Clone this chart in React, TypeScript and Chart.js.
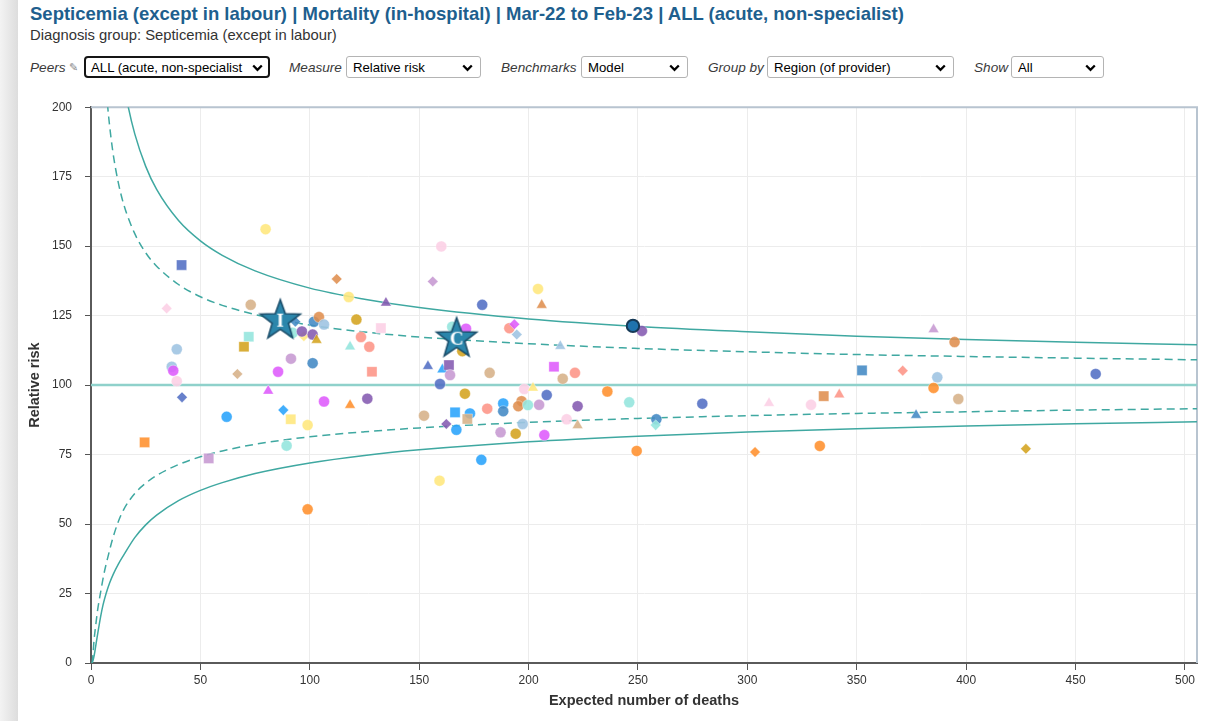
import React, { useEffect, useRef } from "react";
import { Chart, registerables } from "chart.js";

Chart.register(...registerables);

// ---------------- data ----------------
// expected number of deaths per provider
const expectedDeaths = [
  79.8, 41.4, 34.6, 73.0, 93.4, 92.2, 97.3, 96.4, 101.3, 101.9,
  104.2, 106.5, 103.1, 112.3, 117.8, 134.8, 121.3, 132.5, 123.4, 127.2,
  118.4, 128.4, 72.1, 69.9, 39.2, 36.9, 37.6, 39.2, 41.6, 66.9,
  85.5, 91.4, 101.3, 81.0, 87.9, 91.3, 106.5, 118.4, 126.3, 62.0,
  160.1, 156.2, 178.8, 204.3, 206.0, 165.1, 171.4, 169.7, 191.2, 193.5,
  194.6, 214.5, 154.0, 160.6, 163.6, 164.1, 159.5, 182.2, 211.6, 215.6,
  221.2, 251.8, 236.0, 246.0, 279.4, 309.9, 329.1, 170.9, 208.3, 198.0,
  202.0, 222.4, 204.8, 188.4, 188.4, 196.8, 195.3, 199.7, 181.1, 166.4,
  173.2, 152.2, 172.0, 162.4, 167.0, 187.2, 194.1, 197.3, 207.2, 178.4,
  217.4, 222.4, 258.4, 258.1, 249.4, 303.5, 385.1, 394.7, 352.4, 371.0,
  386.8, 385.1, 396.4, 459.2, 334.9, 342.0, 377.1, 333.1, 427.3, 24.5,
  53.8, 99.0, 89.4, 99.0, 159.3,
];
// relative risk per provider
const relativeRisk = [
  156.1, 143.2, 127.6, 128.9, 122.8, 118.8, 117.6, 119.3, 118.2, 122.8,
  124.5, 121.8, 116.2, 138.2, 131.7, 129.6, 123.6, 120.5, 117.3, 113.8,
  113.8, 104.8, 117.4, 113.8, 112.9, 106.6, 105.2, 101.4, 95.6, 104.0,
  104.8, 109.5, 107.9, 97.9, 91.0, 87.7, 94.1, 92.8, 95.1, 88.6,
  149.9, 137.3, 128.9, 134.6, 128.8, 121.0, 120.3, 112.2, 120.5, 121.9,
  118.2, 114.0, 106.8, 105.6, 107.2, 103.6, 100.4, 104.4, 106.6, 102.3,
  104.4, 119.5, 97.7, 93.8, 93.3, 93.5, 92.9, 96.9, 96.4, 98.6,
  99.0, 92.4, 92.9, 93.4, 90.6, 94.2, 92.4, 92.8, 91.5, 90.2,
  89.8, 89.0, 87.8, 86.0, 83.9, 83.0, 82.5, 86.0, 82.0, 73.1,
  87.7, 85.5, 87.7, 85.6, 76.3, 75.9, 120.0, 115.5, 105.3, 105.2,
  102.8, 99.0, 95.0, 104.0, 96.0, 96.6, 89.2, 78.1, 77.1, 79.4,
  73.6, 85.6, 78.2, 55.3, 65.6,
];
// region group of each provider
const providerRegion = [
  "N", "A", "H", "L", "B", "O", "N", "E", "E", "B",
  "K", "C", "M", "K", "N", "E", "M", "H", "I", "I",
  "O", "I", "O", "M", "C", "C", "G", "H", "A", "L",
  "G", "F", "B", "G", "D", "N", "G", "J", "E", "D",
  "H", "F", "A", "N", "K", "O", "G", "M", "I", "G",
  "C", "C", "A", "D", "E", "F", "A", "L", "G", "L",
  "I", "E", "J", "O", "A", "H", "H", "M", "A", "H",
  "N", "E", "F", "D", "B", "K", "K", "O", "I", "D",
  "D", "L", "L", "E", "D", "F", "M", "C", "G", "D",
  "H", "L", "B", "O", "J", "J", "F", "K", "B", "I",
  "C", "J", "L", "A", "K", "I", "B", "J", "M", "J",
  "F", "N", "O", "J", "N",
];
// provider type (drawn with a different marker)
const providerType = [
  "T1", "T2", "T3", "T1", "T3", "T1", "T3", "T1", "T1", "T1",
  "T1", "T1", "T4", "T3", "T1", "T4", "T1", "T2", "T1", "T1",
  "T4", "T2", "T2", "T2", "T1", "T1", "T1", "T1", "T3", "T3",
  "T1", "T1", "T1", "T4", "T3", "T2", "T1", "T4", "T1", "T1",
  "T1", "T3", "T1", "T1", "T4", "T1", "T1", "T1", "T1", "T3",
  "T3", "T4", "T4", "T4", "T2", "T1", "T1", "T1", "T2", "T1",
  "T1", "T1", "T1", "T1", "T1", "T4", "T1", "T1", "T1", "T1",
  "T4", "T1", "T1", "T1", "T1", "T1", "T1", "T1", "T1", "T2",
  "T1", "T1", "T2", "T3", "T1", "T1", "T1", "T1", "T1", "T1",
  "T1", "T4", "T1", "T3", "T1", "T3", "T4", "T1", "T2", "T3",
  "T1", "T1", "T1", "T1", "T2", "T4", "T4", "T1", "T3", "T2",
  "T2", "T1", "T1", "T1", "T1",
];

// selected provider
const selectedExpected = [247.7];
const selectedRisk = [121.3];

// peer markers
const peerLetters = ["I", "C"];
const peerExpected = [86.5, 167.1];
const peerRisk = [123.9, 117.4];

// benchmark (100) line
const benchmarkX = [0, 505.5];
const benchmarkY = [100, 100];

// 99.8% control limits
const lower998X = [0.5, 1.2, 1.8, 2.6, 3.5, 4.4, 5.5, 6.9, 8.5, 10.2, 12.5, 15, 20, 25, 30, 40, 50, 60, 75, 100, 125, 150, 200, 250, 300, 350, 400, 450, 506];
const lower998Y = [0, 1.8, 4.3, 8.3, 12.6, 16.7, 20.9, 25.0, 28.8, 32.0, 35.6, 38.9, 45.1, 49.7, 53.2, 58.4, 62.1, 64.9, 68.2, 72.0, 74.7, 76.7, 79.6, 81.6, 83.1, 84.3, 85.3, 86.1, 86.8];
const upper998X = [15, 17, 20, 25, 30, 40, 50, 60, 75, 100, 125, 150, 200, 250, 300, 350, 400, 450, 506];
const upper998Y = [208.6, 200.2, 190.4, 178.7, 170.4, 159.2, 151.9, 146.7, 141.1, 134.9, 130.9, 127.9, 123.8, 121.1, 119.2, 117.6, 116.4, 115.4, 114.5];

// 95% control limits
const lower95X = [0.55, 0.9, 1.4, 2, 3, 4.4, 5.9, 8, 10, 12.5, 15, 20, 25, 30, 40, 50, 60, 75, 100, 125, 150, 200, 250, 300, 350, 400, 450, 506];
const lower95Y = [0, 3.0, 8.3, 12.5, 18.9, 25.5, 32.0, 39.0, 45.0, 50.9, 55.3, 61.0, 64.7, 67.5, 71.4, 74.2, 76.3, 78.7, 81.4, 83.2, 84.6, 86.6, 88.0, 89.0, 89.8, 90.4, 91.0, 91.5];
const upper95X = [7, 8, 10, 12.5, 15, 20, 25, 30, 40, 50, 60, 75, 100, 125, 150, 200, 250, 300, 350, 400, 450, 506];
const upper95Y = [206.0, 197.1, 183.9, 172.8, 164.9, 154.5, 147.6, 142.8, 136.2, 131.8, 128.7, 125.4, 121.6, 119.1, 117.3, 114.9, 113.2, 112.0, 111.0, 110.3, 109.7, 109.1];

// axis settings
const xMax = 505.5;
const yMax = 200;

// ---------------- styling ----------------
const regionColors: Record<string, string> = {
  A: "rgba(82,110,196,0.88)",
  B: "rgba(66,137,196,0.88)",
  C: "rgba(160,196,226,0.9)",
  D: "rgba(40,163,252,0.88)",
  E: "rgba(132,90,176,0.88)",
  F: "rgba(198,152,210,0.88)",
  G: "rgba(222,90,252,0.88)",
  H: "rgba(252,208,229,0.9)",
  I: "rgba(253,148,134,0.88)",
  J: "rgba(255,144,44,0.88)",
  K: "rgba(223,142,78,0.88)",
  L: "rgba(214,176,136,0.88)",
  M: "rgba(212,163,30,0.88)",
  N: "rgba(255,232,128,0.9)",
  O: "rgba(150,230,222,0.9)",
};
const typeShape: Record<string, string> = { T1: "circle", T2: "rect", T3: "rectRot", T4: "triangle" };
const shapeRadius: Record<string, number> = { circle: 5.5, rect: 7.2, rectRot: 5.3, triangle: 6.2 };

const LIMIT_COLOR = "#3fa8a1";
const FONT = '"Liberation Sans", Arial, Helvetica, sans-serif';

function makeStar(letter: string): HTMLCanvasElement {
  const c = document.createElement("canvas");
  c.width = 48;
  c.height = 48;
  const g = c.getContext("2d")!;
  const cx = 24, cy = 26, R = 21, r = 8.6;
  g.beginPath();
  for (let i = 0; i < 10; i++) {
    const ang = -Math.PI / 2 + (i * Math.PI) / 5;
    const rad = i % 2 === 0 ? R : r;
    const px = cx + rad * Math.cos(ang);
    const py = cy + rad * Math.sin(ang);
    if (i === 0) g.moveTo(px, py);
    else g.lineTo(px, py);
  }
  g.closePath();
  g.fillStyle = "#2b86ab";
  g.fill();
  g.lineWidth = 1.6;
  g.strokeStyle = "#1a4d6a";
  g.stroke();
  g.fillStyle = "#ffffff";
  g.font = 'bold 19px "Liberation Serif", "DejaVu Serif", serif';
  g.textAlign = "center";
  g.textBaseline = "middle";
  g.fillText(letter, cx, cy + 1);
  return c;
}

function toPoints(xs: number[], ys: number[]) {
  return xs.map((x, i) => ({ x, y: ys[i] }));
}

const Select = ({ left, width, text, focused }: { left: number; width: number; text: string; focused?: boolean }) => (
  <div
    style={{
      position: "absolute",
      left,
      top: 56,
      width,
      height: 22,
      boxSizing: "border-box",
      border: focused ? "2px solid #151515" : "1px solid #b4b4b4",
      borderRadius: focused ? 4 : 3,
      background: "#fff",
      fontSize: 13.2,
      color: "#000",
      display: "flex",
      alignItems: "center",
      paddingLeft: focused ? 5 : 6,
    }}
  >
    <span style={{ overflow: "hidden", whiteSpace: "nowrap", width: width - 26 }}>{text}</span>
    <svg style={{ position: "absolute", right: focused ? 5 : 7, top: focused ? 6 : 7 }} width="11" height="8" viewBox="0 0 11 8">
      <polyline points="1.2,1.5 5.5,5.8 9.8,1.5" stroke="#000" strokeWidth="2.3" fill="none" />
    </svg>
  </div>
);

const Label = ({ left, text }: { left: number; text: string }) => (
  <div
    style={{
      position: "absolute",
      left,
      top: 56,
      height: 22,
      display: "flex",
      alignItems: "center",
      fontStyle: "italic",
      fontSize: 13.6,
      color: "#3a3a3a",
      whiteSpace: "nowrap",
    }}
  >
    {text}
  </div>
);

export default function App() {
  const ref = useRef<HTMLCanvasElement>(null);

  useEffect(() => {
    if (!ref.current) return;
    Chart.defaults.font.family = FONT;

    const shapes = providerType.map((t) => typeShape[t]);
    const colors = providerRegion.map((r) => regionColors[r]);
    const radii = shapes.map((s) => shapeRadius[s]);
    const stars = peerLetters.map((l) => makeStar(l));

    const framePlugin = {
      id: "frame",
      beforeDatasetsDraw(chart: any) {
        const { ctx, chartArea: a } = chart;
        ctx.save();
        ctx.strokeStyle = "#b8c4d0";
        ctx.lineWidth = 2;
        ctx.beginPath();
        ctx.moveTo(a.left, a.top);
        ctx.lineTo(a.right, a.top);
        ctx.lineTo(a.right, a.bottom);
        ctx.stroke();
        ctx.restore();
      },
    };

    const lineBase = {
      showLine: true,
      pointRadius: 0,
      pointHoverRadius: 0,
      fill: false,
      cubicInterpolationMode: "monotone" as const,
      borderColor: LIMIT_COLOR,
      borderWidth: 1.5,
      order: 10,
    };

    const chart = new Chart(ref.current, {
      type: "scatter",
      data: {
        datasets: [
          {
            ...lineBase,
            label: "Benchmark",
            data: toPoints(benchmarkX, benchmarkY),
            borderColor: "#8fd1cb",
            borderWidth: 2.5,
            cubicInterpolationMode: "default" as const,
          },
          { ...lineBase, label: "Lower 99.8%", data: toPoints(lower998X, lower998Y) },
          { ...lineBase, label: "Upper 99.8%", data: toPoints(upper998X, upper998Y) },
          { ...lineBase, label: "Lower 95%", data: toPoints(lower95X, lower95Y), borderDash: [8, 5] },
          { ...lineBase, label: "Upper 95%", data: toPoints(upper95X, upper95Y), borderDash: [8, 5] },
          {
            label: "Providers",
            data: toPoints(expectedDeaths, relativeRisk),
            pointStyle: shapes as any,
            pointRadius: radii,
            backgroundColor: colors,
            borderColor: "rgba(255,255,255,0.35)",
            borderWidth: 1,
            order: 3,
          },
          {
            label: "Selected",
            data: toPoints(selectedExpected, selectedRisk),
            pointStyle: "circle",
            pointRadius: 6.2,
            backgroundColor: "#1f73ad",
            borderColor: "#163a57",
            borderWidth: 2,
            order: 2,
          },
          {
            label: "Peers",
            data: toPoints(peerExpected, peerRisk),
            pointStyle: stars as any,
            pointRadius: 21,
            order: 1,
          },
        ],
      },
      options: {
        animation: false,
        responsive: false,
        devicePixelRatio: 1,
        layout: { autoPadding: false, padding: { left: 0, top: 12, right: 17, bottom: 0 } },
        plugins: { legend: { display: false }, tooltip: { enabled: false } },
        events: [],
        scales: {
          x: {
            type: "linear",
            min: 0,
            max: xMax,
            afterFit: (s: any) => {
              s.height = 58;
              s.paddingLeft = 0;
              s.paddingRight = 0;
            },
            ticks: {
              stepSize: 50,
              includeBounds: false,
              color: "#333",
              font: { size: 12 },
              padding: 3,
              maxRotation: 0,
              autoSkip: false,
            },
            grid: { color: "#ececec", lineWidth: 1, tickColor: "#555", tickLength: 7, drawTicks: true },
            border: { color: "#5a5a5a", width: 2 },
            title: {
              display: true,
              text: "Expected number of deaths",
              color: "#333",
              font: { size: 14.5, weight: "bold" },
              padding: { top: 2, bottom: 11 },
            },
          },
          y: {
            type: "linear",
            min: 0,
            max: yMax,
            afterFit: (s: any) => {
              s.width = 71;
            },
            ticks: { stepSize: 25, includeBounds: false, color: "#333", font: { size: 12 }, padding: 13 },
            grid: { color: "#ececec", lineWidth: 1, tickColor: "#555", tickLength: 6, drawTicks: true },
            border: { color: "#5a5a5a", width: 2 },
            title: {
              display: true,
              text: "Relative risk",
              color: "#333",
              font: { size: 14.5, weight: "bold" },
              padding: { top: 6, bottom: 0 },
            },
          },
        },
      },
      plugins: [framePlugin],
    } as any);

    return () => chart.destroy();
  }, []);

  return (
    <div
      style={{
        position: "fixed",
        left: 0,
        top: 0,
        width: 1214,
        height: 721,
        overflow: "hidden",
        background: "#fff",
        fontFamily: FONT,
      }}
    >
      <div
        style={{
          position: "absolute",
          left: 0,
          top: 0,
          width: 18,
          height: 721,
          background: "linear-gradient(to right, #f3f3f3, #dddddd)",
        }}
      />
      <div
        style={{
          position: "absolute",
          left: 30,
          top: 5,
          fontSize: 18.5,
          lineHeight: 1,
          fontWeight: "bold",
          color: "#1e5f8e",
          whiteSpace: "nowrap",
        }}
      >
        Septicemia (except in labour) | Mortality (in-hospital) | Mar-22 to Feb-23 | ALL (acute, non-specialist)
      </div>
      <div
        style={{
          position: "absolute",
          left: 30,
          top: 27.5,
          fontSize: 14.8,
          lineHeight: 1,
          color: "#333",
          whiteSpace: "nowrap",
        }}
      >
        Diagnosis group: Septicemia (except in labour)
      </div>

      <Label left={30} text="Peers" />
      <div
        style={{
          position: "absolute",
          left: 69,
          top: 56,
          height: 22,
          display: "flex",
          alignItems: "center",
          fontSize: 11,
          color: "#8a8a8a",
          fontFamily: '"DejaVu Sans", sans-serif',
        }}
      >
        ✎
      </div>
      <Select left={84} width={186} text="ALL (acute, non-specialist" focused />
      <Label left={289} text="Measure" />
      <Select left={346} width={135} text="Relative risk" />
      <Label left={501} text="Benchmarks" />
      <Select left={581} width={107} text="Model" />
      <Label left={708} text="Group by" />
      <Select left={767} width={187} text="Region (of provider)" />
      <Label left={974} text="Show" />
      <Select left={1011} width={93} text="All" />

      <canvas
        ref={ref}
        width={1194}
        height={634}
        style={{ position: "absolute", left: 20, top: 87, width: 1194, height: 634 }}
      />
    </div>
  );
}
